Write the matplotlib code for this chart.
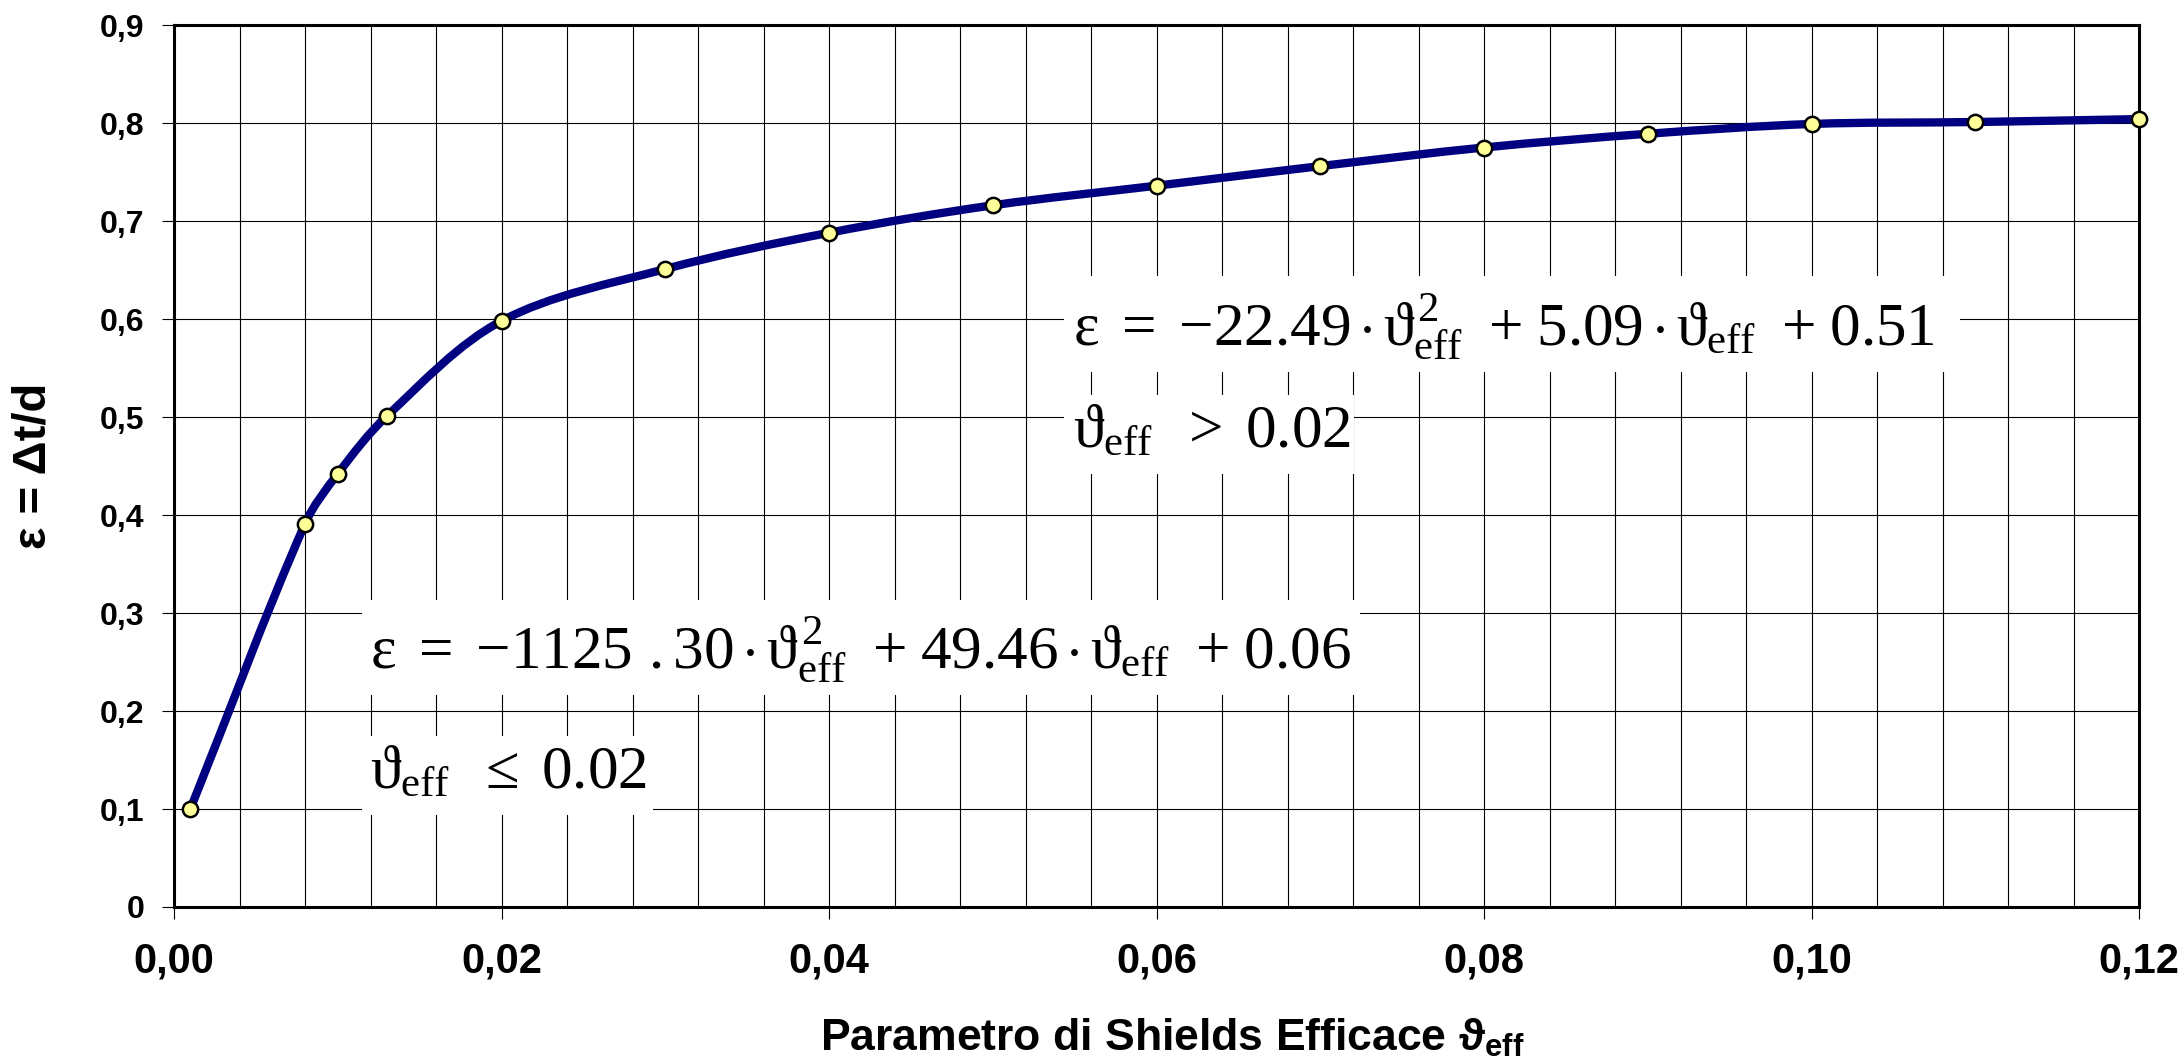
import numpy as np
import matplotlib.pyplot as plt
from matplotlib.path import Path
from matplotlib.patches import PathPatch, Rectangle

# ---------------------------------------------------------------------------
# data
# ---------------------------------------------------------------------------
theta_eff = [0.001, 0.008, 0.010, 0.013, 0.020, 0.030, 0.040, 0.050,
             0.060, 0.070, 0.080, 0.090, 0.100, 0.110, 0.120]
eps = [0.100, 0.391, 0.442, 0.501, 0.598, 0.651, 0.688, 0.716,
       0.736, 0.756, 0.775, 0.789, 0.799, 0.801, 0.804]

x_ticks = [0.00, 0.02, 0.04, 0.06, 0.08, 0.10, 0.12]
x_tick_labels = ['0,00', '0,02', '0,04', '0,06', '0,08', '0,10', '0,12']
y_ticks = [0.0, 0.1, 0.2, 0.3, 0.4, 0.5, 0.6, 0.7, 0.8, 0.9]
y_tick_labels = ['0', '0,1', '0,2', '0,3', '0,4', '0,5', '0,6', '0,7', '0,8', '0,9']

eq_high = (r'$\varepsilon\;{=}\;{-}22.49\,{\cdot}\,\vartheta_{\mathrm{eff}}^{2}\;\;'
           r'{+}\;5.09\,{\cdot}\,\vartheta_{\mathrm{eff}}\;\;{+}\;0.51$')
cond_high = r'$\vartheta_{\mathrm{eff}}\;\;{>}\;0.02$'
eq_low = (r'$\varepsilon\;{=}\;{-}1125\ .30\,{\cdot}\,\vartheta_{\mathrm{eff}}^{2}\;\;'
          r'{+}\;49.46\,{\cdot}\,\vartheta_{\mathrm{eff}}\;\;{+}\;0.06$')
cond_low = r'$\vartheta_{\mathrm{eff}}\;\;{\leq}\;0.02$'

# ---------------------------------------------------------------------------
# style
# ---------------------------------------------------------------------------
plt.rcParams['font.family'] = ['Liberation Sans', 'DejaVu Sans']
plt.rcParams['mathtext.fontset'] = 'custom'
plt.rcParams['mathtext.rm'] = 'Liberation Serif'
plt.rcParams['mathtext.it'] = 'Liberation Serif'
plt.rcParams['mathtext.bf'] = 'Liberation Sans:bold'

W, H = 2184, 1060
fig = plt.figure(figsize=(W / 100, H / 100), dpi=100)
ax = fig.add_axes([174 / W, 1 - 907 / H, (2139 - 174) / W, (907 - 25) / H])

ax.set_xlim(0, 0.12)
ax.set_ylim(0, 0.9)

# grid: vertical every 0.004, horizontal every 0.1
ax.set_xticks(x_ticks)
ax.set_xticklabels(x_tick_labels, fontsize=30, fontweight='bold')
ax.set_xticks(np.arange(0, 0.1201, 0.004), minor=True)
ax.set_yticks(y_ticks)
ax.set_yticklabels(y_tick_labels, fontsize=23, fontweight='bold')
ax.grid(True, which='minor', axis='x', color='black', lw=0.8)
ax.grid(True, which='major', axis='x', color='black', lw=0.8)
ax.grid(True, which='major', axis='y', color='black', lw=0.8)
ax.tick_params(axis='x', which='major', direction='out', length=8.5, width=0.8, pad=16)
ax.tick_params(axis='x', which='minor', length=0)
ax.tick_params(axis='y', direction='out', length=8.5, width=0.8, pad=13)
for s in ax.spines.values():
    s.set_linewidth(2.2)
    s.set_zorder(6)

# smoothed line (Excel-like): cubic Bezier segments through the points,
# tangents computed in screen-proportional units
sx = 1965 / 0.12
sy = 882 / 0.9
P = np.column_stack([np.array(theta_eff) * sx, np.array(eps) * sy])
n = len(P)
c_out = [P[0] + (P[1] - P[0]) / 3]
c_in = [None]
for i in range(1, n - 1):
    m = P[i + 1] - P[i - 1]
    lp = np.linalg.norm(P[i] - P[i - 1])
    ln = np.linalg.norm(P[i + 1] - P[i])
    c_in.append(P[i] - m * lp / (lp + ln) / 3)
    c_out.append(P[i] + m * ln / (lp + ln) / 3)
c_in.append(P[-1] - (P[-1] - P[-2]) / 3)
verts = [P[0]]
codes = [Path.MOVETO]
for i in range(n - 1):
    verts += [c_out[i], c_in[i + 1], P[i + 1]]
    codes += [Path.CURVE4] * 3
verts = np.array(verts) / [sx, sy]
ax.add_patch(PathPatch(Path(verts, codes), fill=False, edgecolor='#000080',
                       lw=6, capstyle='round', joinstyle='round', zorder=4))
ax.plot(theta_eff, eps, ls='none', marker='o', ms=11, mfc='#FFFF99',
        mec='black', mew=1.8, zorder=7, clip_on=False)

# white boxes behind the equations (axes fraction)
boxes = [(0.4529, 0.6066, 0.4560, 0.1088),
         (0.4529, 0.4909, 0.1476, 0.0896),
         (0.0957, 0.2404, 0.5079, 0.1077),
         (0.0957, 0.1043, 0.1481, 0.0896)]
for bx, by, bw, bh in boxes:
    ax.add_patch(Rectangle((bx, by), bw, bh, transform=ax.transAxes,
                           facecolor='white', edgecolor='none', zorder=3))

eq_kw = dict(transform=ax.transAxes, fontsize=44, va='baseline', ha='left', zorder=5)
ax.text(0.4575, 0.6372, eq_high, **eq_kw)
ax.text(0.4575, 0.5215, cond_high, **eq_kw)
ax.text(0.0997, 0.2710, eq_low, **eq_kw)
ax.text(0.0997, 0.1349, cond_low, **eq_kw)

# axis titles
fig.text(34 / W, 1 - 466 / H, 'ε = Δt/d', rotation=90, fontsize=34,
         fontweight='bold', ha='center', va='center')
fig.text(1172 / W, 1 - 1038 / H,
         r'Parametro di Shields Efficace $\mathbf{\vartheta}_{\mathbf{eff}}$',
         fontsize=32, fontweight='bold', ha='center', va='center')

fig.savefig('out.png', dpi=100)
